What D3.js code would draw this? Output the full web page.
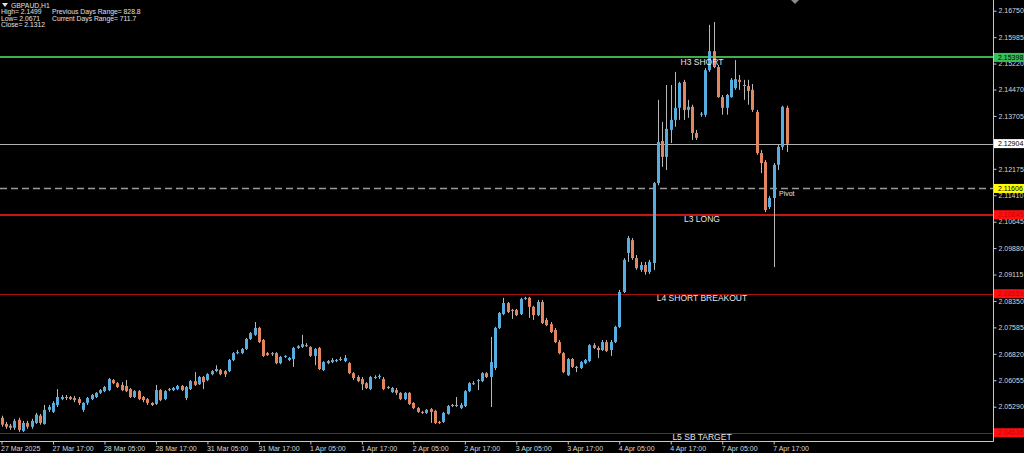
<!DOCTYPE html>
<html><head><meta charset="utf-8">
<script src="https://cdn.jsdelivr.net/npm/d3@7"></script>
<style>html,body{margin:0;padding:0;background:#000;overflow:hidden}</style>
</head><body><svg id="c" width="1024" height="453"></svg>
<script>
// ---------- data ----------
const tickBars = [0,12,24,36,48,60,72,84,96,108,120,132,144,156,168,180];
const tickLabels = ["27 Mar 2025","27 Mar 17:00","28 Mar 05:00","28 Mar 17:00","31 Mar 05:00","31 Mar 17:00","1 Apr 05:00","1 Apr 17:00","2 Apr 05:00","2 Apr 17:00","3 Apr 05:00","3 Apr 17:00","4 Apr 05:00","4 Apr 17:00","7 Apr 05:00","7 Apr 17:00"];
const yTicks = [2.16750,2.15985,2.15220,2.14470,2.13705,2.12940,2.12175,2.11410,2.10645,2.09880,2.09115,2.08350,2.07585,2.06820,2.06055,2.05290];

const open = [2.0497,2.0479,2.0474,2.0468,2.0491,2.0459,2.0482,2.0471,2.0482,2.0503,
2.0479,2.0520,2.0514,2.0534,2.0551,2.0557,2.0557,2.0554,2.0551,2.0520,
2.0540,2.0551,2.0557,2.0569,2.0574,2.0577,2.0606,2.0597,2.0592,2.0589,
2.0580,2.0557,2.0574,2.0557,2.0551,2.0540,2.0537,2.0577,2.0551,2.0577,
2.0577,2.0580,2.0589,2.0554,2.0580,2.0603,2.0594,2.0615,2.0606,2.0623,
2.0632,2.0635,2.0632,2.0632,2.0664,2.0684,2.0684,2.0696,2.0725,2.0737,
2.0757,2.0722,2.0684,2.0681,2.0684,2.0655,2.0673,2.0664,2.0667,2.0699,
2.0702,2.0707,2.0702,2.0676,2.0699,2.0635,2.0655,2.0658,2.0661,2.0664,
2.0661,2.0655,2.0626,2.0615,2.0609,2.0597,2.0580,2.0612,2.0615,2.0609,
2.0586,2.0571,2.0577,2.0569,2.0551,2.0569,2.0540,2.0525,2.0514,2.0511,
2.0522,2.0517,2.0485,2.0485,2.0508,2.0531,2.0531,2.0525,2.0531,2.0574,
2.0594,2.0603,2.0603,2.0626,2.0615,2.0641,2.0757,2.0797,2.0829,2.0809,
2.0809,2.0797,2.0841,2.0844,2.0818,2.0794,2.0832,2.0780,2.0768,2.0751,
2.0716,2.0684,2.0620,2.0667,2.0641,2.0641,2.0655,2.0661,2.0707,2.0699,
2.0693,2.0716,2.0693,2.0716,2.0760,2.0861,2.0974,2.1011,2.0959,2.0925,
2.0939,2.0919,2.0945,2.1176,2.1298,2.1252,2.1330,2.1359,2.1394,2.1469,
2.1388,2.1397,2.1321,2.1374,2.1374,2.1503,2.1558,2.1512,2.1425,2.1394,
2.1425,2.1451,2.1475,2.1460,2.1457,2.1446,2.1382,2.1263,2.1237,2.1107,
2.1133,2.1229,2.1281,2.1394];
const high = [2.0503,2.0485,2.0479,2.0494,2.0497,2.0488,2.0488,2.0494,2.0511,2.0508,
2.0534,2.0534,2.0545,2.0580,2.0563,2.0563,2.0560,2.0560,2.0557,2.0542,
2.0557,2.0566,2.0571,2.0580,2.0589,2.0612,2.0609,2.0600,2.0600,2.0606,
2.0583,2.0577,2.0577,2.0560,2.0554,2.0542,2.0592,2.0580,2.0577,2.0583,
2.0586,2.0592,2.0592,2.0589,2.0606,2.0629,2.0618,2.0618,2.0626,2.0635,
2.0649,2.0638,2.0635,2.0667,2.0687,2.0693,2.0699,2.0728,2.0745,2.0774,
2.0760,2.0725,2.0687,2.0687,2.0687,2.0676,2.0678,2.0673,2.0702,2.0707,
2.0737,2.0713,2.0704,2.0699,2.0702,2.0661,2.0664,2.0670,2.0667,2.0673,
2.0678,2.0658,2.0629,2.0620,2.0615,2.0600,2.0618,2.0620,2.0623,2.0615,
2.0589,2.0586,2.0583,2.0571,2.0571,2.0571,2.0542,2.0528,2.0517,2.0522,
2.0525,2.0520,2.0488,2.0514,2.0534,2.0537,2.0557,2.0540,2.0577,2.0600,
2.0603,2.0609,2.0629,2.0629,2.0731,2.0760,2.0803,2.0844,2.0832,2.0812,
2.0812,2.0844,2.0847,2.0847,2.0821,2.0838,2.0838,2.0786,2.0774,2.0757,
2.0722,2.0687,2.0670,2.0670,2.0647,2.0661,2.0667,2.0710,2.0713,2.0704,
2.0722,2.0722,2.0722,2.0763,2.0867,2.0959,2.1023,2.1017,2.0968,2.0948,
2.0948,2.0954,2.1179,2.1417,2.1353,2.1460,2.1460,2.1498,2.1469,2.1475,
2.1417,2.1403,2.1330,2.1382,2.1509,2.1634,2.1642,2.1518,2.1431,2.1434,
2.1480,2.1532,2.1489,2.1475,2.1475,2.1463,2.1388,2.1272,2.1243,2.1139,
2.1234,2.1287,2.1400,2.1400];
const low = [2.0471,2.0465,2.0462,2.0462,2.0456,2.0456,2.0465,2.0465,2.0479,2.0477,
2.0477,2.0514,2.0511,2.0528,2.0548,2.0548,2.0548,2.0542,2.0534,2.0514,
2.0534,2.0548,2.0554,2.0566,2.0571,2.0574,2.0594,2.0583,2.0574,2.0571,
2.0554,2.0554,2.0548,2.0542,2.0534,2.0531,2.0534,2.0545,2.0548,2.0574,
2.0574,2.0577,2.0574,2.0548,2.0577,2.0589,2.0592,2.0580,2.0603,2.0620,
2.0629,2.0620,2.0615,2.0629,2.0661,2.0681,2.0681,2.0693,2.0722,2.0734,
2.0713,2.0673,2.0676,2.0676,2.0652,2.0652,2.0670,2.0661,2.0644,2.0696,
2.0699,2.0702,2.0673,2.0649,2.0635,2.0632,2.0652,2.0655,2.0658,2.0661,
2.0658,2.0623,2.0606,2.0600,2.0577,2.0580,2.0577,2.0609,2.0609,2.0577,
2.0580,2.0569,2.0563,2.0548,2.0548,2.0534,2.0522,2.0511,2.0508,2.0508,
2.0482,2.0479,2.0479,2.0482,2.0506,2.0528,2.0528,2.0522,2.0528,2.0571,
2.0592,2.0577,2.0600,2.0612,2.0528,2.0635,2.0754,2.0794,2.0800,2.0783,
2.0791,2.0794,2.0838,2.0786,2.0780,2.0791,2.0768,2.0762,2.0742,2.0713,
2.0681,2.0626,2.0618,2.0641,2.0629,2.0638,2.0652,2.0658,2.0696,2.0670,
2.0690,2.0687,2.0676,2.0713,2.0757,2.0858,2.0948,2.0954,2.0925,2.0919,
2.0911,2.0913,2.0925,2.1170,2.1223,2.1214,2.1292,2.1339,2.1359,2.1359,
2.1365,2.1301,2.1301,2.1368,2.1368,2.1498,2.1509,2.1423,2.1374,2.1374,
2.1423,2.1446,2.1446,2.1417,2.1403,2.1382,2.1258,2.1205,2.1092,2.1101,
2.0933,2.1214,2.1272,2.1266];
const close = [2.0477,2.0471,2.0468,2.0488,2.0462,2.0482,2.0471,2.0488,2.0506,2.0482,
2.0520,2.0528,2.0540,2.0557,2.0557,2.0554,2.0551,2.0548,2.0540,2.0540,
2.0554,2.0563,2.0569,2.0577,2.0586,2.0609,2.0597,2.0586,2.0577,2.0574,
2.0557,2.0574,2.0551,2.0548,2.0540,2.0534,2.0577,2.0548,2.0574,2.0580,
2.0583,2.0589,2.0577,2.0586,2.0603,2.0592,2.0615,2.0600,2.0623,2.0632,
2.0638,2.0623,2.0623,2.0664,2.0684,2.0687,2.0696,2.0725,2.0742,2.0757,
2.0716,2.0676,2.0678,2.0684,2.0655,2.0673,2.0676,2.0670,2.0699,2.0704,
2.0710,2.0704,2.0676,2.0696,2.0638,2.0658,2.0661,2.0664,2.0664,2.0667,
2.0670,2.0626,2.0612,2.0603,2.0594,2.0583,2.0615,2.0615,2.0618,2.0580,
2.0583,2.0583,2.0569,2.0551,2.0569,2.0537,2.0525,2.0514,2.0511,2.0520,
2.0514,2.0482,2.0482,2.0511,2.0531,2.0534,2.0534,2.0534,2.0574,2.0597,
2.0597,2.0606,2.0626,2.0615,2.0658,2.0757,2.0800,2.0829,2.0803,2.0806,
2.0794,2.0841,2.0844,2.0818,2.0794,2.0832,2.0771,2.0765,2.0745,2.0716,
2.0684,2.0629,2.0667,2.0644,2.0644,2.0658,2.0664,2.0707,2.0699,2.0693,
2.0716,2.0690,2.0716,2.0760,2.0861,2.0954,2.1017,2.0959,2.0930,2.0939,
2.0919,2.0948,2.1176,2.1295,2.1252,2.1333,2.1359,2.1394,2.1466,2.1388,
2.1397,2.1321,2.1307,2.1377,2.1503,2.1558,2.1512,2.1425,2.1394,2.1431,
2.1475,2.1477,2.1469,2.1457,2.1443,2.1388,2.1263,2.1234,2.1098,2.1133,
2.1229,2.1281,2.1397,2.1290];

const levelNames = ["H3 SHORT","L3 LONG","L4 SHORT BREAKOUT","L5 SB TARGET"];
const levelValues = [2.15398, 2.10845, 2.08559, 2.04536];
const pivotValue = 2.11606;
const currentPrice = 2.12904;
const headerLines = ["GBPAUD,H1","High= 2.1499","Low= 2.0671","Close= 2.1312"];
const headerRight = ["Previous Days Range= 828.8","Current Days Range= 711.7"];

// ---------- layout ----------
const W = 1024, H = 453, plotR = 993, plotB = 441;
const svg = d3.select("#c");
svg.append("rect").attr("width",W).attr("height",H).attr("fill","#000");

const x = d3.scaleLinear().domain([0, 231]).range([1.5, 1.5 + 4.29*231]);
const y = d3.scaleLinear().domain([2.04297, 2.17060]).range([plotB, 0]);

const FONT = "'Liberation Sans', Arial, sans-serif";
const bull = "#58ade0", bear = "#e28560", wick = "#b8b8b8";

const plot = svg.append("g");
plot.append("clipPath").attr("id","pc").append("rect").attr("width",plotR).attr("height",plotB);
const pg = plot.append("g").attr("clip-path","url(#pc)");

// current price line + pivot
pg.append("line").attr("x1",0).attr("x2",plotR).attr("y1",Math.round(y(currentPrice))+0.5).attr("y2",Math.round(y(currentPrice))+0.5)
  .attr("stroke","#b0b0b0").attr("stroke-width",1);
pg.append("line").attr("x1",0).attr("x2",plotR).attr("y1",Math.round(y(pivotValue))+0.5).attr("y2",Math.round(y(pivotValue))+0.5)
  .attr("stroke","#9a9a9a").attr("stroke-width",1.3).attr("stroke-dasharray","7,4");

// level lines
const levelColors = ["#3fae4f","#c81414","#a81010","#a81010"];
const levelWidths = [2,2,1,1];
levelValues.forEach((v,i)=>{
  const yy = Math.round(y(v)) + (levelWidths[i]===1?0.5:0);
  pg.append("line").attr("x1",0).attr("x2",plotR).attr("y1",yy).attr("y2",yy)
    .attr("stroke",levelColors[i]).attr("stroke-width",levelWidths[i]);
});

// candles
const idx = d3.range(open.length);
pg.selectAll("line.wick").data(idx).join("line").attr("class","wick")
  .attr("x1",i=>Math.round(x(i))+0.5).attr("x2",i=>Math.round(x(i))+0.5)
  .attr("y1",i=>y(high[i])).attr("y2",i=>y(low[i]))
  .attr("stroke",wick).attr("stroke-width",1);
pg.selectAll("rect.body").data(idx).join("rect").attr("class","body")
  .attr("x",i=>Math.round(x(i))-1).attr("width",3)
  .attr("y",i=>y(Math.max(open[i],close[i])))
  .attr("height",i=>Math.max(1, Math.abs(y(open[i])-y(close[i]))))
  .attr("fill",i=>close[i]>=open[i]?bull:bear);

// level labels
levelValues.forEach((v,i)=>{
  svg.append("text").attr("x",702).attr("y",y(v)+7.5).attr("text-anchor","middle")
    .attr("font-family",FONT).attr("font-size",8.5).attr("fill","#e6e6e6").text(levelNames[i]);
});
svg.append("text").attr("x",779).attr("y",y(pivotValue)+8).attr("font-family",FONT)
  .attr("font-size",7).attr("fill","#e6e6e6").text("Pivot");

// axes
const yAxis = d3.axisRight(y).tickValues(yTicks).tickSize(3).tickSizeOuter(0).tickFormat(d3.format(".5f"));
const ga = svg.append("g").attr("transform",`translate(${plotR+0.5},0)`).call(yAxis);
ga.select(".domain").remove();
ga.selectAll(".tick line").attr("stroke","#c8c8c8");
ga.selectAll(".tick text").attr("x",5).attr("fill","#d8d8d8").attr("font-family",FONT).attr("font-size",7);

const xAxis = d3.axisBottom(x).tickValues(tickBars).tickSize(3).tickSizeOuter(0).tickFormat((d,i)=>tickLabels[i]);
const gx = svg.append("g").attr("transform",`translate(0,${plotB+0.5})`).call(xAxis);
gx.select(".domain").remove();
gx.selectAll(".tick line").attr("stroke","#c8c8c8");
gx.selectAll(".tick text").attr("text-anchor","start").attr("x",-1).attr("y",5).attr("fill","#d8d8d8")
  .attr("font-family",FONT).attr("font-size",7);

svg.append("line").attr("x1",plotR+0.5).attr("x2",plotR+0.5).attr("y1",0).attr("y2",plotB+0.5).attr("stroke","#c8c8c8");
svg.append("line").attr("x1",0).attr("x2",plotR+0.5).attr("y1",plotB+0.5).attr("y2",plotB+0.5).attr("stroke","#c8c8c8");

// price boxes
const boxes = [
  {v:levelValues[0], bg:"#35c05a", fg:"#000"},
  {v:currentPrice, bg:"#ffffff", fg:"#000"},
  {v:pivotValue, bg:"#ffff00", fg:"#000"},
  {v:levelValues[1], bg:"#ff1010", fg:"#d00000"},
  {v:levelValues[2], bg:"#ff1010", fg:"#d00000"},
  {v:levelValues[3], bg:"#ff1010", fg:"#d00000"}
];
boxes.forEach(b=>{
  const yy = y(b.v);
  svg.append("rect").attr("x",plotR+1).attr("y",yy-4.5).attr("width",W-plotR-1).attr("height",9).attr("fill",b.bg);
  svg.append("text").attr("x",plotR+5).attr("y",yy).attr("dy","0.34em").attr("font-family",FONT)
    .attr("font-size",7).attr("fill",b.fg).text(d3.format(".5f")(b.v));
});

// chart shift marker
const sx = Math.round(x(185));
svg.append("path").attr("d",`M${sx-4},0L${sx+4},0L${sx},4Z`).attr("fill","#8a8a8a");

// header
svg.append("path").attr("d","M2,3L8,3L5,7Z").attr("fill","#e0e0e0");
headerLines.forEach((t,i)=>{
  svg.append("text").attr("x", i===0?11:1).attr("y",8+i*6.3).attr("font-family",FONT).attr("font-size",6.8)
    .attr("fill","#e0e0e0").text(t);
});
headerRight.forEach((t,i)=>{
  svg.append("text").attr("x",52).attr("y",14.3+i*6.3).attr("font-family",FONT).attr("font-size",6.8)
    .attr("fill","#e0e0e0").text(t);
});
</script></body></html>
